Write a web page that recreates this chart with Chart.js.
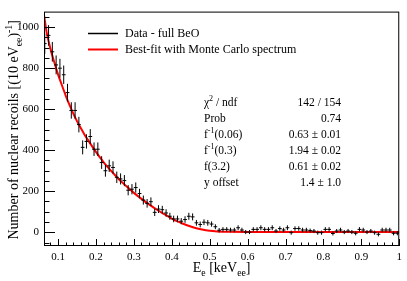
<!DOCTYPE html>
<html><head><meta charset="utf-8">
<script src="https://cdn.jsdelivr.net/npm/chart.js@4.4.1/dist/chart.umd.min.js"></script>
<style>html,body{margin:0;padding:0;background:#fff;}#wrap{width:407px;height:281px;}</style>
</head><body><div id="wrap"><canvas id="c" width="407" height="281"></canvas></div>
<script>
// ---- data ----
const binCenters = [0.065,0.075,0.085,0.095,0.105,0.115,0.125,0.135,0.145,0.155,0.165,0.175,0.185,0.195,0.205,0.215,0.225,0.235,0.245,0.255,0.265,0.275,0.285,0.295,0.305,0.315,0.325,0.335,0.345,0.355,0.365,0.375,0.385,0.395,0.405,0.415,0.425,0.435,0.445,0.455,0.465,0.475,0.485,0.495,0.505,0.515,0.525,0.535,0.545,0.555,0.565,0.575,0.585,0.595,0.605,0.615,0.625,0.635,0.645,0.655,0.665,0.675,0.685,0.695,0.705,0.715,0.725,0.735,0.745,0.755,0.765,0.775,0.785,0.795,0.805,0.815,0.825,0.835,0.845,0.855,0.865,0.875,0.885,0.895,0.905,0.915,0.925,0.935,0.945,0.955,0.965,0.975,0.985,0.995];
const counts = [920,960,880,816,800,768,681,594,594,525,414,443,467,405,405,340,300,324,316,268,260,252,205,210,218,189,157,141,149,97,113,110,94,78,65,65,54,62,78,75,46,38,49,46,40,27,10,14,14,11,11,22,11,1,1,14,14,22,14,14,22,6,18,11,22,-2,18,18,11,11,8,6,-2,-2,14,14,-6,6,11,1,6,1,-5,14,11,1,6,-2,-10,11,11,11,-5,-5];
const errors = [50,50,48,46,46,45,43,40,40,38,34,35,36,33,33,31,29,30,30,28,27,27,25,25,25,23,22,21,21,18,19,19,18,17,16,16,15,16,17,17,14,14,14,14,13,12,11,11,11,11,11,12,11,10,10,11,11,12,11,11,12,10,11,11,12,10,11,11,11,11,10,10,10,10,11,11,10,10,11,10,10,10,10,11,11,10,10,10,10,11,11,11,10,10];
const binHalfWidth = 0.005;
const fitX = [0.063,0.07,0.08,0.09,0.10,0.11,0.12,0.13,0.14,0.15,0.16,0.17,0.18,0.19,0.20,0.21,0.22,0.23,0.24,0.25,0.26,0.27,0.28,0.29,0.30,0.32,0.34,0.36,0.38,0.40,0.42,0.44,0.46,0.48,0.50,0.52,0.55,0.60,0.70,0.80,0.90,1.00];
const fitY = [1060,975,895,830,770,718,668,622,580,542,508,476,447,419,392,366,342,320,299,279,260,242,225,208,192,163,136,111,88,67,49,34,22,13,7,4,2,1.4,1.4,1.4,1.4,1.4];
const xTickLabels = ['0.1','0.2','0.3','0.4','0.5','0.6','0.7','0.8','0.9','1'];
const yTickLabels = ['0','200','400','600','800','1000'];
const statNames = ['\u03C7^{2} / ndf','Prob','f^{-1}(0.06)','f^{-1}(0.3)','f(3.2)','y offset'];
const statValues = ['142 / 154','0.74','0.63 \u00B1 0.01','1.94 \u00B1 0.02','0.61 \u00B1 0.02','1.4 \u00B1 1.0'];
const seriesNames = ['Data - full BeO','Best-fit with Monte Carlo spectrum'];
const xTitle = 'E_{e} [keV_{ee}]';
const yTitle = 'Number of nuclear recoils [(10 eV_{ee})^{-1}]';

const FAM = '"Liberation Serif", "Times New Roman", serif';

// ---- build library datasets ----
const errYData = [], errXData = [];
binCenters.forEach((c, i) => {
  errYData.push({x: c, y: counts[i] - errors[i]}, {x: c, y: counts[i] + errors[i]}, {x: c, y: null});
  errXData.push({x: c - binHalfWidth, y: counts[i]}, {x: c + binHalfWidth, y: counts[i]}, {x: c, y: null});
});
const fitData = fitX.map((v, i) => ({x: v, y: fitY[i]}));

// ---- rich text helpers ----
function parseRich(s){
  const segs=[]; let i=0, buf='';
  while(i<s.length){
    if((s[i]==='^'||s[i]==='_') && s[i+1]==='{'){
      if(buf){segs.push({t:buf,k:0});buf='';}
      const end=s.indexOf('}',i);
      segs.push({t:s.slice(i+2,end),k:s[i]==='^'?1:-1});
      i=end+1;
    } else {buf+=s[i];i++;}
  }
  if(buf)segs.push({t:buf,k:0});
  return segs;
}
function drawRich(ctx,str,x,y,size,align){
  const segs=parseRich(str);
  let w=0;
  segs.forEach(s=>{ctx.font=(s.k?size*0.7:size)+'px '+FAM; s.w=ctx.measureText(s.t).width; w+=s.w;});
  let cx = align==='center'? x-w/2 : align==='right'? x-w : x;
  ctx.textAlign='left'; ctx.textBaseline='alphabetic';
  segs.forEach(s=>{
    ctx.font=(s.k?size*0.7:size)+'px '+FAM;
    const dy = s.k===1? -0.4*size : s.k===-1? 0.28*size : 0;
    ctx.fillText(s.t,cx,y+dy); cx+=s.w;
  });
}

const decor = {
  id:'decor',
  afterDraw(chart){
    const {ctx, chartArea:a, scales:{x,y}} = chart;
    ctx.save();
    ctx.strokeStyle='#000'; ctx.lineWidth=1; ctx.fillStyle='#000';
    ctx.strokeRect(a.left+0.5,a.top+0.5,a.right-a.left-1,a.bottom-a.top-1);
    ctx.beginPath();
    x.ticks.forEach(t=>{
      const v=t.value; if(v<x.min-1e-9||v>x.max+1e-9) return;
      const major=Math.abs(v*10-Math.round(v*10))<1e-6;
      const px=Math.round(x.getPixelForValue(v))+0.5;
      ctx.moveTo(px,a.bottom); ctx.lineTo(px,a.bottom-(major?7:3.5));
    });
    y.ticks.forEach(t=>{
      const v=t.value; if(v<y.min-1e-9||v>y.max+1e-9) return;
      const major=Math.abs(v%200)<1e-6;
      const py=Math.round(y.getPixelForValue(v))+0.5;
      ctx.moveTo(a.left,py); ctx.lineTo(a.left+(major?11:5.5),py);
    });
    ctx.stroke();
    // legend
    const ds = chart.data.datasets.filter(d=>d.legendLabel);
    ds.forEach((d,i)=>{
      const ly = 33 + i*16;
      ctx.beginPath(); ctx.strokeStyle=d.borderColor; ctx.lineWidth=d.legendWidth;
      ctx.moveTo(88,ly+0.5); ctx.lineTo(118,ly+0.5); ctx.stroke();
      ctx.fillStyle='#000'; drawRich(ctx,d.legendLabel,125,ly+4,12,'left');
    });
    // stats
    statNames.forEach((n,i)=>{
      const ry = 106 + i*16;
      drawRich(ctx,n,204,ry,11.5,'left');
      drawRich(ctx,statValues[i],341,ry,11.5,'right');
    });
    // axis titles
    drawRich(ctx,xTitle,(a.left+a.right)/2,272,14,'center');
    ctx.save(); ctx.translate(9,(a.top+a.bottom)/2+1); ctx.rotate(-Math.PI/2);
    drawRich(ctx,yTitle,0,9,14,'center'); ctx.restore();
    ctx.restore();
  }
};

new Chart(document.getElementById('c'),{
  type:'line',
  data:{datasets:[
    {data:errYData,borderColor:'#000',borderWidth:1,pointRadius:0,spanGaps:false,legendLabel:seriesNames[0],legendWidth:1.5},
    {data:errXData,borderColor:'#000',borderWidth:1,pointRadius:0,spanGaps:false},
    {data:fitData,borderColor:'#ff0000',borderWidth:2,pointRadius:0,cubicInterpolationMode:'monotone',legendLabel:seriesNames[1],legendWidth:2}
  ]},
  options:{
    responsive:false, animation:false, devicePixelRatio:1,
    parsing:true,
    layout:{padding:{left:0,top:7,right:6,bottom:0}},
    plugins:{legend:{display:false},tooltip:{enabled:false}},
    scales:{
      x:{type:'linear',min:0.063,max:1,
        grid:{display:false,drawTicks:false},border:{display:false},
        ticks:{stepSize:0.02,includeBounds:false,autoSkip:false,maxRotation:0,padding:5,color:'#000',
          font:{family:FAM,size:11},
          callback:(v)=>{const r=Math.round(v*10); return Math.abs(v*10-r)<1e-6 && r>=1 && r<=10 ? xTickLabels[r-1] : '';}},
        afterFit:(s)=>{s.height=35;}},
      y:{type:'linear',min:-67,max:1076,
        grid:{display:false,drawTicks:false},border:{display:false},
        ticks:{stepSize:50,includeBounds:false,autoSkip:false,padding:5,color:'#000',
          font:{family:FAM,size:11},
          callback:(v)=>{ if(Math.abs(v%200)>1e-6||v<0) return ''; const k=Math.round(v/200); return yTickLabels[k]||''; }},
        afterFit:(s)=>{s.width=44;}}
    }
  },
  plugins:[decor]
});
</script></body></html>
